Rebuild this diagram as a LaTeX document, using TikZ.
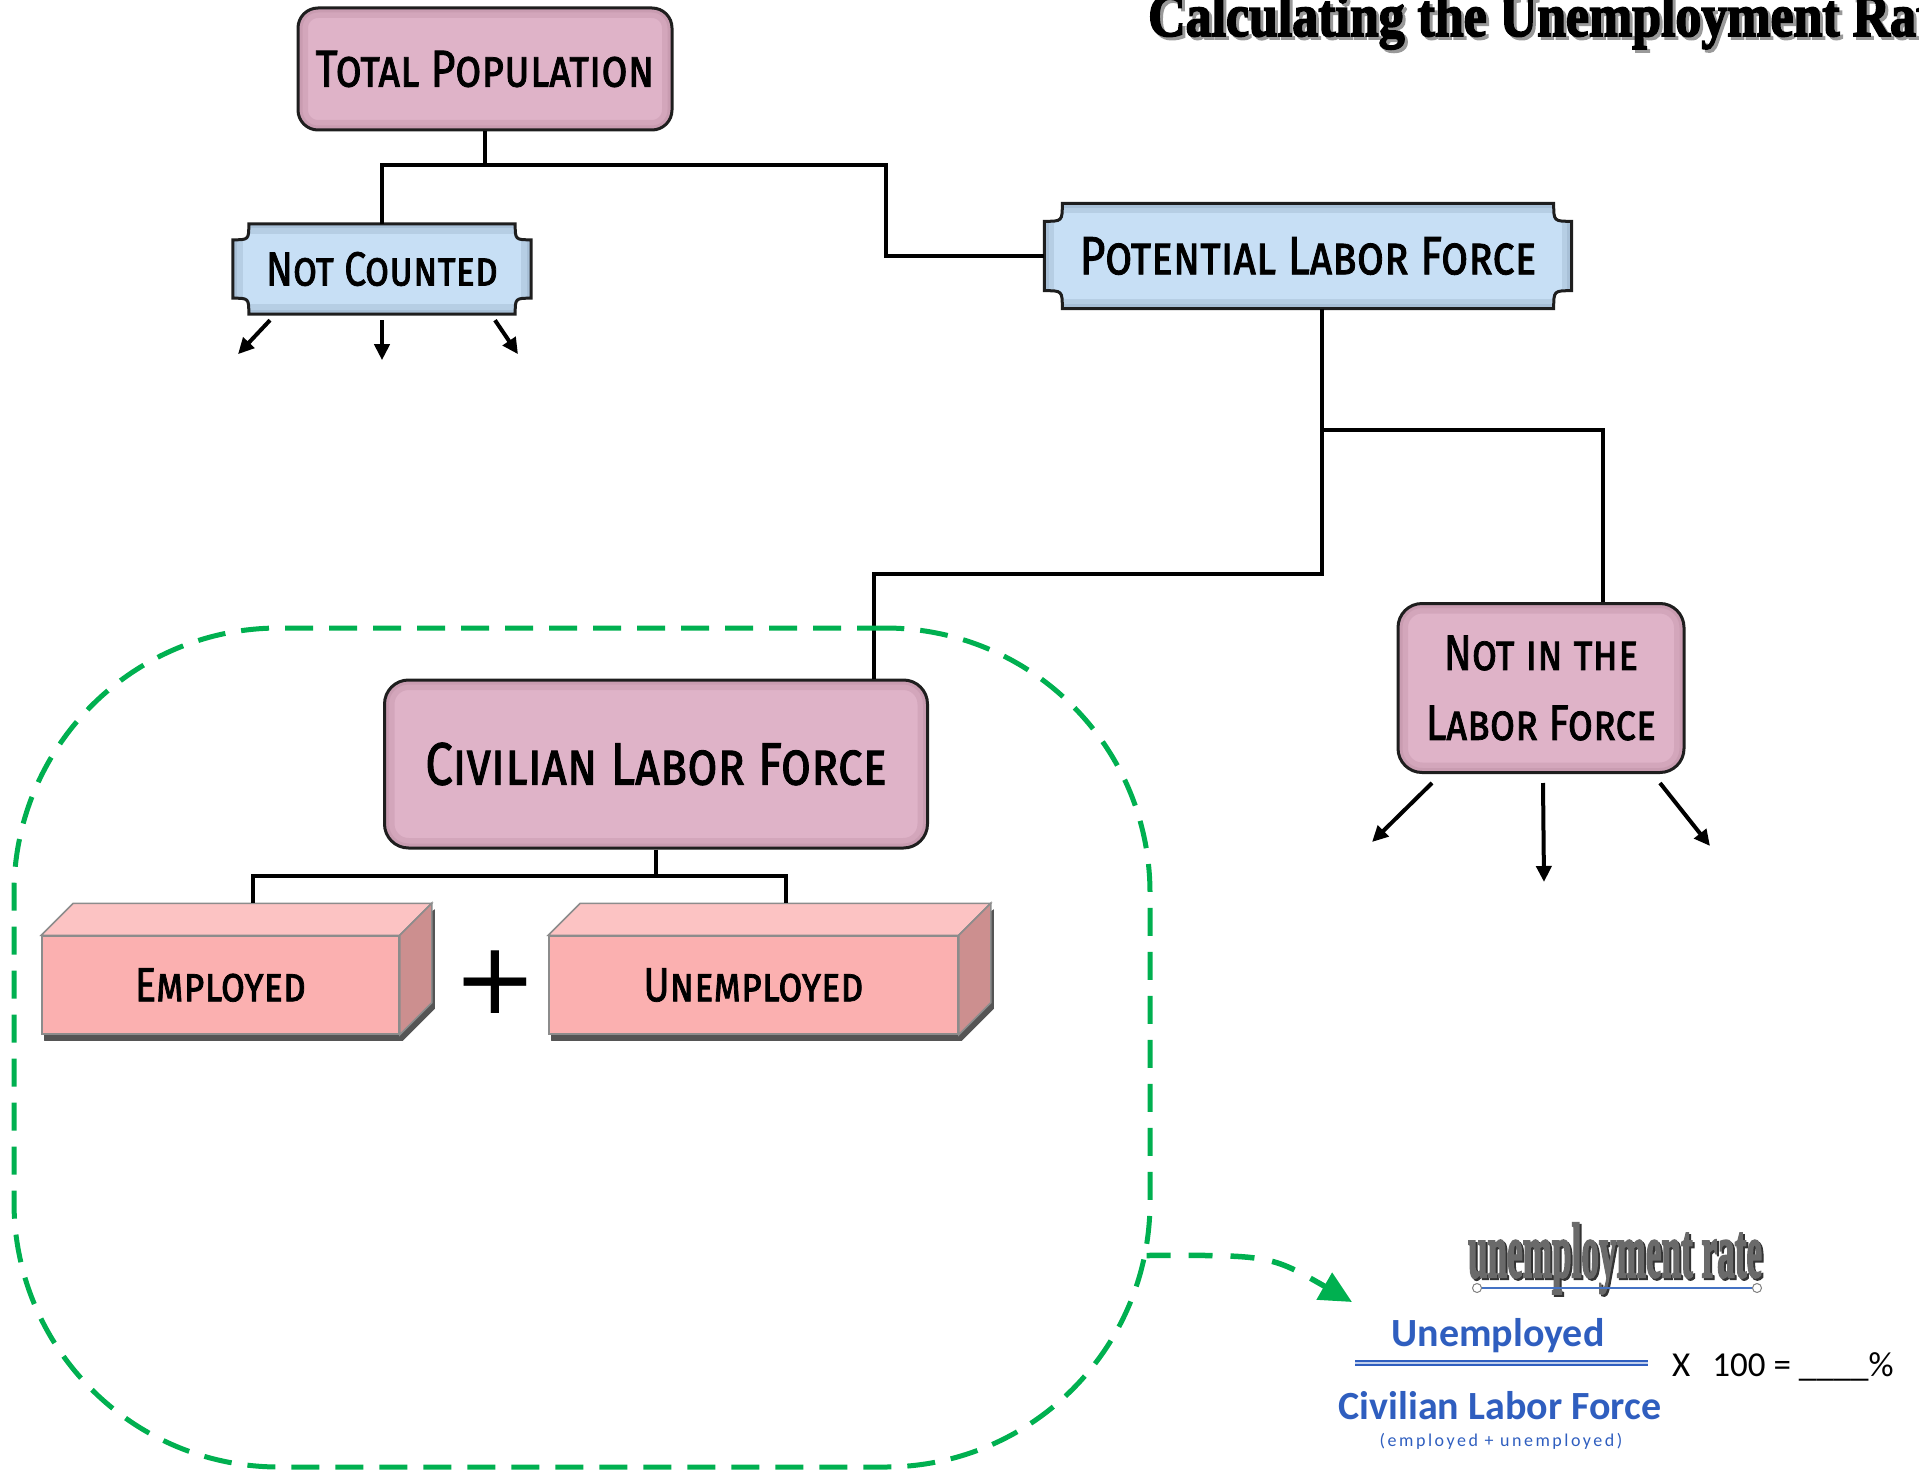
\documentclass[tikz,border=0pt]{standalone}
\usepackage{fontspec}
\usepackage{graphicx}
\usetikzlibrary{backgrounds}
\usetikzlibrary{arrows.meta}
\usetikzlibrary{calc}

\newfontfamily\boxfont[Letters=SmallCaps,FakeStretch=0.82,FakeBold=1.5]{Fira Sans}
\newfontfamily\heavyfont[UprightFont={* Bold},UprightFeatures={FakeBold=3}]{Liberation Serif}
\newfontfamily\calfont{Carlito}
\newfontfamily\notefont[LetterSpace=14]{Carlito}
\newfontfamily\plusfont{DejaVu Sans}

\definecolor{boxline}{HTML}{1E1E1E}
\definecolor{pinkfill}{HTML}{DFB3C8}
\definecolor{pinkrim}{HTML}{B98AA0}
\definecolor{plaqueblue}{HTML}{C7DFF5}
\definecolor{plaquerim}{HTML}{8FA8C0}
\definecolor{slabfront}{HTML}{FBB0B0}
\definecolor{slabtop}{HTML}{FCC3C3}
\definecolor{slabside}{HTML}{CC8F8F}
\definecolor{slabedge}{HTML}{8C8C8C}
\definecolor{slabshadow}{HTML}{555555}
\definecolor{dashgreen}{HTML}{00B050}
\definecolor{fracblue}{HTML}{2F5EBF}
\definecolor{handleblue}{HTML}{4472C4}
\definecolor{wordgray}{HTML}{6A6A6A}

\newcommand{\plaque}[3]{%
  \begin{scope}[on background layer]
    \draw[draw=boxline, line width=3pt, fill=#3, bevel=plaquerim]
      ($(#1.north west)+(#2,0)$) -- ($(#1.north east)+(-#2,0)$)
      .. controls ($(#1.north east)+(-#2,#2)$) .. ($(#1.north east)+(0,#2)$)
      -- ($(#1.south east)+(0,-#2)$)
      .. controls ($(#1.south east)+(-#2,-#2)$) .. ($(#1.south east)+(-#2,0)$)
      -- ($(#1.south west)+(#2,0)$)
      .. controls ($(#1.south west)+(#2,-#2)$) .. ($(#1.south west)+(0,-#2)$)
      -- ($(#1.north west)+(0,#2)$)
      .. controls ($(#1.north west)+(#2,#2)$) .. ($(#1.north west)+(#2,0)$) -- cycle;
  \end{scope}}

\newcommand{\slab}[1]{%
  \begin{scope}[on background layer]
    \fill[slabshadow] ([shift={(3,6)}]#1.south west) -- ([shift={(3,6)}]#1.south east)
      -- ([shift={(35,-26)}]#1.south east) -- ([shift={(35,-26)}]#1.north east)
      -- (#1.north east) -- (#1.north west) -- cycle;
  \end{scope}
  \draw[slabedge, line width=1.5pt, fill=slabtop] (#1.north west) -- ++(32,-32)
    -- ($(#1.north east)+(32,-32)$) -- (#1.north east) -- cycle;
  \draw[slabedge, line width=1.5pt, fill=slabside] (#1.north east) -- ++(32,-32)
    -- ($(#1.south east)+(32,-32)$) -- (#1.south east) -- cycle;}

\tikzset{
  bevel/.style={path picture={
    \draw[#1, line width=20pt, opacity=0.3] (path picture bounding box.north west) rectangle (path picture bounding box.south east);
    \draw[#1, line width=9pt, opacity=0.35] (path picture bounding box.north west) rectangle (path picture bounding box.south east);}}
}

\begin{document}
\begin{tikzpicture}[x=1pt,y=-1pt,
    pinkbox/.style={draw=boxline, line width=3pt, fill=pinkfill, bevel=pinkrim, rounded corners=20pt, align=center, inner sep=0pt},
    plaquebox/.style={align=center, inner sep=0pt},
    slabbox/.style={draw=slabedge, line width=1.5pt, fill=slabfront, inner sep=0pt},
    tree/.style={line width=4pt},
    leaf/.style={line width=4pt, -{Triangle[length=16pt,width=15pt]}},
    greendash/.style={draw=dashgreen, line width=5pt, dash pattern=on 28pt off 16pt},
    greenarrow/.style={draw=dashgreen, line width=5.5pt, dash pattern=on 24pt off 18pt, -{Triangle[length=32pt,width=30pt,fill=dashgreen]}},
    fracword/.style={font=\calfont\bfseries\fontsize{40}{44}\selectfont, text=fracblue, inner sep=0pt}]
  \useasboundingbox (0,0) rectangle (1919,1471);

  \node[anchor=base west, text=gray!80, inner sep=0pt] (titleshadow) at (1151,39) {\resizebox{808pt}{42pt}{\heavyfont Calculating the Unemployment Rate}};
  \node[anchor=base west, inner sep=0pt] (title) at (1148,36) {\resizebox{808pt}{42pt}{\heavyfont Calculating the Unemployment Rate}};

  \node[pinkbox, minimum width=374pt, minimum height=122pt, font=\boxfont\fontsize{52}{56}\selectfont] (totpop) at (485,69) {Total Population};
  \node[plaquebox, minimum width=298pt, minimum height=90pt, font=\boxfont\fontsize{48}{52}\selectfont] (notcount) at (382,269) {Not Counted};
  \plaque{notcount}{16}{plaqueblue}
  \node[plaquebox, minimum width=527pt, minimum height=105pt, font=\boxfont\fontsize{54}{58}\selectfont] (potlab) at (1308,256) {Potential Labor Force};
  \plaque{potlab}{18}{plaqueblue}
  \node[pinkbox, rounded corners=24pt, minimum width=286pt, minimum height=169pt, font=\boxfont\fontsize{50}{70}\selectfont] (notlab) at (1541,688) {Not in the\\Labor Force};
  \node[pinkbox, rounded corners=24pt, minimum width=543pt, minimum height=168pt, font=\boxfont\fontsize{60}{64}\selectfont] (civlab) at (656,764) {Civilian Labor Force};

  \node[slabbox, minimum width=357pt, minimum height=98pt, font=\boxfont\fontsize{48}{52}\selectfont] (emp) at (220.5,985) {Employed};
  \slab{emp}
  \node[slabbox, minimum width=409pt, minimum height=98pt, font=\boxfont\fontsize{48}{52}\selectfont] (unemp) at (753.5,985) {Unemployed};
  \slab{unemp}
  \node[font=\plusfont\fontsize{100}{100}\selectfont, inner sep=0pt] (plus) at (495,982) {+};

  \coordinate (tpfork) at (485,165);
  \coordinate (plfbend) at (886,165);
  \coordinate (plffork) at (1322,430);
  \coordinate (clfbend) at (1322,574);
  \coordinate (clffork) at (656,876);
  \draw[tree] (totpop.south) -- (tpfork) -| (notcount.north);
  \draw[tree] (tpfork) -- (plfbend) |- (potlab.west);
  \draw[tree] (potlab.south -| plffork) -- (clfbend) -| ([xshift=-55pt]civlab.north east);
  \draw[tree] (plffork) -| ([xshift=62pt]notlab.north);
  \draw[tree] (civlab.south) -- (clffork);
  \draw[tree] (clffork) -| ([shift={(32,-32)}]emp.north);
  \draw[tree] (clffork) -| ([shift={(32,-32)}]unemp.north);

  \draw[leaf] ([shift={(-112,6)}]notcount.south) -- ++(-32,34);
  \draw[leaf] ([shift={(0,6)}]notcount.south) -- ++(0,40);
  \draw[leaf] ([shift={(113,6)}]notcount.south) -- ++(23,34);
  \draw[leaf] ([shift={(-109,9)}]notlab.south) -- ++(-60,59);
  \draw[leaf] ([shift={(2,9)}]notlab.south) -- ++(1,99);
  \draw[leaf] ([shift={(119,9)}]notlab.south) -- ++(50,63);

  \node[greendash, rounded corners=265pt, minimum width=1136pt, minimum height=839pt] (clfgroup) at (582,1047.5) {};
  \coordinate (ratein) at (1352,1302);
  \draw[greenarrow] ([shift={(-6,208)}]clfgroup.east) .. controls (1270,1255) .. (ratein);

  \node[anchor=base, text=black!80, inner sep=0pt] (rateshadow) at (1617,1279) {\resizebox{294pt}{54pt}{\heavyfont unemployment rate}};
  \node[anchor=base, text=wordgray, inner sep=0pt] (ratetitle) at (1615,1277) {\resizebox{294pt}{54pt}{\heavyfont unemployment rate}};
  \coordinate (handleleft) at (1477,1288);
  \coordinate (handleright) at (1757,1288);
  \draw[handleblue, line width=2pt] (handleleft) -- (handleright);
  \draw[gray, fill=white, line width=1pt] (handleleft) circle (4.5pt) (handleright) circle (4.5pt);

  \node[fracword, anchor=base] (numer) at (1498,1346) {Unemployed};
  \coordinate (barleft) at (1355,1363);
  \coordinate (barright) at (1648,1363);
  \draw[fracblue, line width=2.5pt, double=white!70!fracblue, double distance=1.5pt] (barleft) -- (barright);
  \node[fracword, anchor=base] (denom) at (1500,1419) {Civilian Labor Force};
  \node[anchor=base, font=\notefont\fontsize{18}{20}\selectfont, text=fracblue, inner sep=0pt] (denomnote) at (1501,1446) {(employed + unemployed)};
  \node[anchor=base west, font=\calfont\fontsize{35}{38}\selectfont, inner sep=0pt] (times) at (1672,1376) {X\hspace{22pt}100 = \_\_\_\_\%};
\end{tikzpicture}
\end{document}
